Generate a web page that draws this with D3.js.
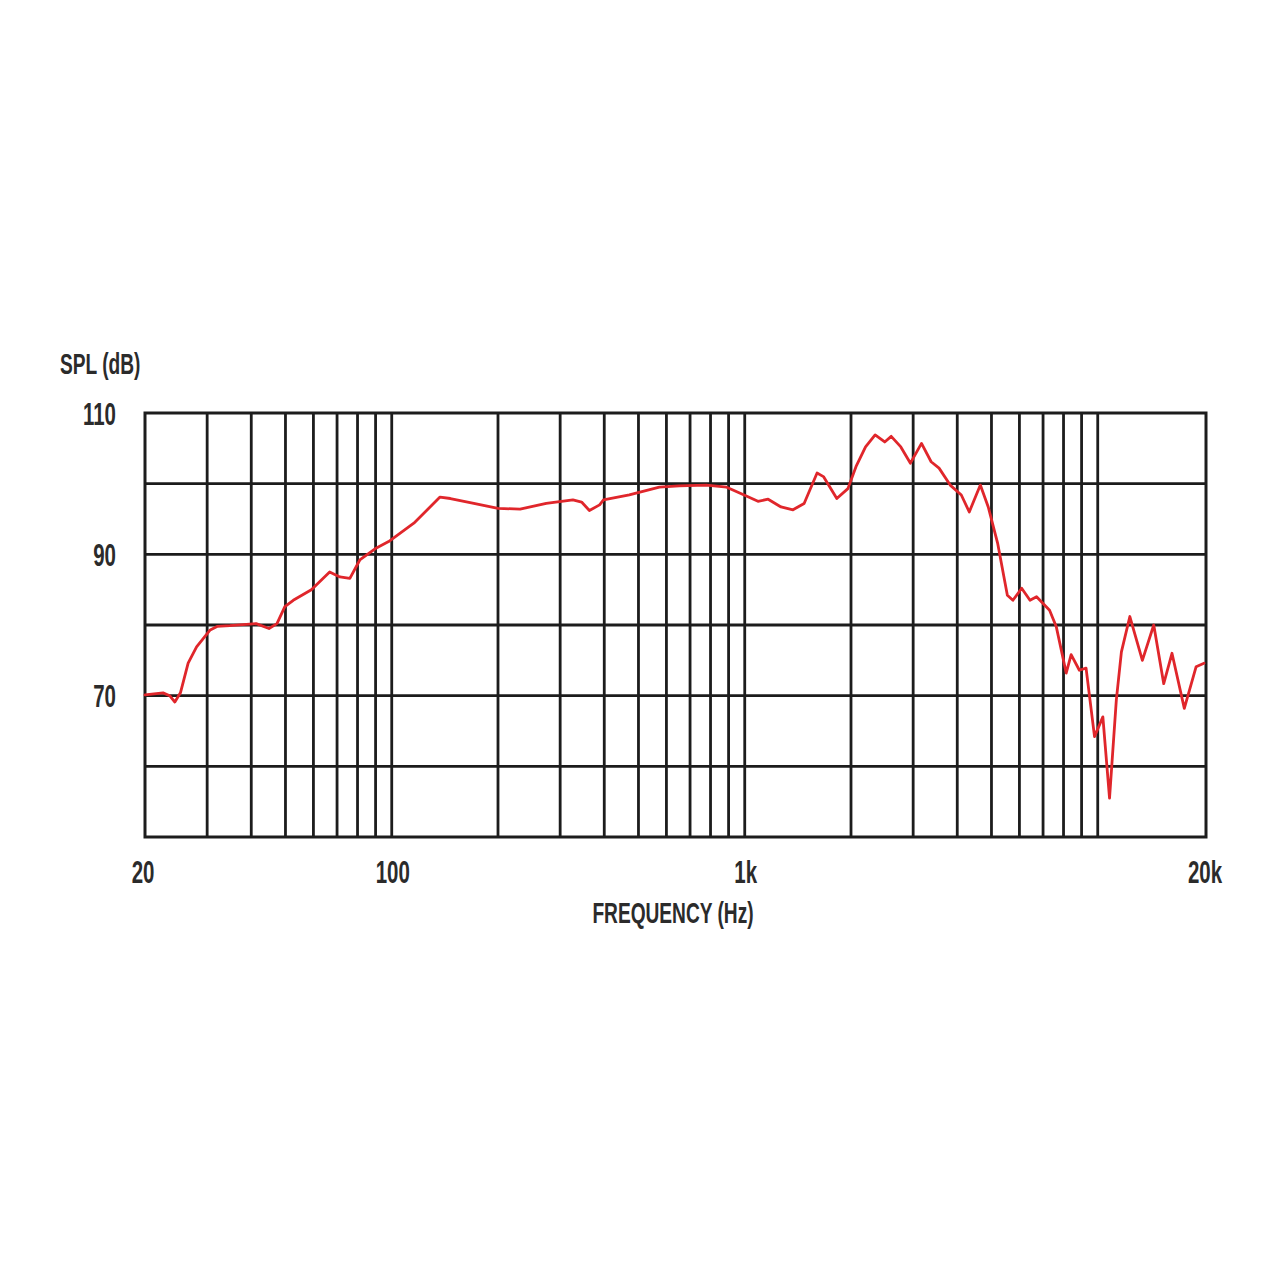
<!DOCTYPE html>
<html>
<head>
<meta charset="utf-8">
<script src="https://cdn.jsdelivr.net/npm/d3@7"></script>
<style>
  html, body { margin: 0; padding: 0; background: #ffffff; }
  svg { display: block; }
  text { font-family: "Liberation Sans", Arial, sans-serif; font-weight: bold; fill: #2b2b2b; }
</style>
</head>
<body>
<svg id="chart" width="1280" height="1280"></svg>
<script>
// ---- data ----
const freqHz = [20, 22.5, 23.5, 24.3, 25.2, 26.5, 28, 30.6, 32, 34.8, 41.3, 44.9, 47.3, 49.8, 52.6,
  59.2, 66.7, 71.3, 76.1, 81.2, 90.5, 98, 115.5, 137, 146.6, 170.8, 200, 231, 274, 326, 345, 363,
  388, 398, 471, 573, 652, 778, 889, 996, 1090, 1165, 1267, 1370, 1473, 1603, 1671, 1823, 1960,
  2066, 2199, 2341, 2492, 2600, 2768, 2947, 3168, 3373, 3552, 3820, 4107, 4326, 4650, 4896,
  5204, 5546, 5750, 6088, 6428, 6710, 7304, 7627, 8141, 8407, 8871, 9267, 9793, 10340, 10800,
  11290, 11670, 12330, 13380, 14410, 15380, 16230, 17590, 19000, 20000];
const splDb = [70.1, 70.4, 70.0, 69.1, 70.4, 74.6, 76.9, 79.3, 79.8, 79.9, 80.2, 79.5, 80.2, 82.6, 83.5,
  85.0, 87.5, 86.8, 86.6, 89.2, 90.9, 91.8, 94.4, 98.1, 97.9, 97.2, 96.5, 96.4, 97.2, 97.7, 97.4, 96.2,
  97.0, 97.7, 98.4, 99.5, 99.7, 99.8, 99.5, 98.4, 97.5, 97.8, 96.7, 96.3, 97.2, 101.5, 101.0, 97.9, 99.3,
  102.4, 105.2, 106.9, 105.9, 106.7, 105.2, 102.9, 105.7, 103.1, 102.2, 99.8, 98.4, 96.0, 99.8, 96.7,
  91.6, 84.2, 83.5, 85.2, 83.5, 84.0, 82.1, 79.8, 73.2, 75.8, 73.6, 73.9, 64.2, 67.0, 55.5,
  69.4, 76.2, 81.2, 75.0, 80.0, 71.7, 76.0, 68.2, 74.1, 74.6];

const xGridHz = [30, 40, 50, 60, 70, 80, 90, 100, 200, 300, 400, 500, 600, 700, 800, 900,
  1000, 2000, 3000, 4000, 5000, 6000, 7000, 8000, 9000, 10000];
const yGridDb = [60, 70, 80, 90, 100];
const xTickHz = [20, 100, 1000, 20000];
const xTickLabels = ["20", "100", "1k", "20k"];
const yTickDb = [110, 90, 70];
const yTickLabels = ["110", "90", "70"];
const xTitle = "FREQUENCY (Hz)";
const yTitle = "SPL (dB)";

// ---- layout ----
const L = 145, R = 1204, T = 413, B = 837;
const svg = d3.select("#chart");
const x = d3.scaleLog().domain([20, 20000]).range([L, R]);
const y = d3.scaleLinear().domain([50, 110]).range([B, T]);
const SX = 0.66;
const gridColor = "#1c1c1c";

// grid
svg.append("g").selectAll("line").data(xGridHz).join("line")
  .attr("x1", d => x(d)).attr("x2", d => x(d))
  .attr("y1", T).attr("y2", B)
  .attr("stroke", gridColor).attr("stroke-width", 2.8);
svg.append("g").selectAll("line").data(yGridDb).join("line")
  .attr("x1", L).attr("x2", R + 2)
  .attr("y1", d => y(d)).attr("y2", d => y(d))
  .attr("stroke", gridColor).attr("stroke-width", 2.8);
svg.append("rect")
  .attr("x", L).attr("y", T).attr("width", R - L + 2).attr("height", B - T)
  .attr("fill", "none").attr("stroke", gridColor).attr("stroke-width", 3);

// curve
const line = d3.line().x((d, i) => x(freqHz[i])).y(d => y(d)).curve(d3.curveLinear);
svg.append("path").datum(splDb)
  .attr("d", line)
  .attr("fill", "none")
  .attr("stroke", "#e0262b")
  .attr("stroke-width", 2.8)
  .attr("stroke-linejoin", "round")
  .attr("stroke-linecap", "round");

// labels helper
function label(txt, px, py, size, anchor) {
  svg.append("g").attr("transform", `translate(${px},${py}) scale(${SX},1)`)
    .append("text").text(txt)
    .attr("font-size", size)
    .attr("text-anchor", anchor)
    .attr("dominant-baseline", "central");
}

// x tick labels
xTickHz.forEach((f, i) => label(xTickLabels[i], x(f) + (i === 0 ? -2 : 1), 872, 31, "middle"));
// y tick labels
yTickDb.forEach((v, i) => label(yTickLabels[i], 116, y(v) + 1, 31, "end"));
// titles
label(xTitle, 673, 913, 29, "middle");
label(yTitle, 60, 364, 29, "start");
</script>
</body>
</html>
